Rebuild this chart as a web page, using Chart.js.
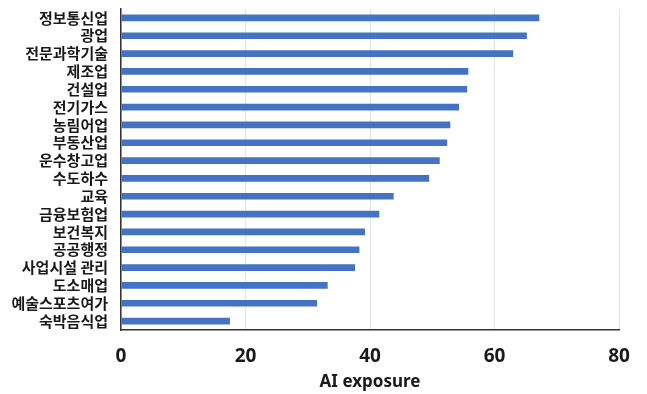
<!DOCTYPE html>
<html>
<head>
<meta charset="utf-8">
<script src="https://cdn.jsdelivr.net/npm/chart.js@4/dist/chart.umd.min.js"></script>
<style>
  html, body { margin: 0; padding: 0; background: #fff; }
  #wrap { width: 647px; height: 394px; }
</style>
</head>
<body>
<div id="wrap"><canvas id="aiChart" width="647" height="394"></canvas></div>
<script>
// 업종 (위에서 아래 순서)
const industries = [
  '정보통신업', '광업', '전문과학기술', '제조업', '건설업', '전기가스',
  '농림어업', '부동산업', '운수창고업', '수도하수', '교육', '금융보험업',
  '보건복지', '공공행정', '사업시설 관리', '도소매업', '예술스포츠여가', '숙박음식업'
];

// AI exposure 값
const exposure = [
  67.2, 65.2, 63.0, 55.8, 55.6, 54.3,
  52.9, 52.4, 51.2, 49.5, 43.8, 41.5,
  39.2, 38.3, 37.6, 33.2, 31.5, 17.5
];

const xTicks = [0, 20, 40, 60, 80];

const ctx = document.getElementById('aiChart').getContext('2d');

new Chart(ctx, {
  type: 'bar',
  data: {
    labels: industries,
    datasets: [{
      data: exposure,
      backgroundColor: '#4472C4',
      borderWidth: 0,
      categoryPercentage: 0.75,
      barPercentage: 0.5
    }]
  },
  options: {
    indexAxis: 'y',
    responsive: false,
    animation: false,
    layout: { padding: { top: 9, right: 28, bottom: 2, left: 0 } },
    plugins: {
      legend: { display: false },
      tooltip: { enabled: false }
    },
    scales: {
      x: {
        min: 0,
        max: 80,
        afterBuildTicks: axis => { axis.ticks = xTicks.map(v => ({ value: v })); },
        afterFit: axis => { axis.height = 62; },
        grid: { color: '#e3e3e3', lineWidth: 1, drawTicks: false },
        border: { color: '#333', width: 1.5 },
        ticks: {
          padding: 15,
          color: '#1a1a1a',
          font: { family: 'Noto Sans', size: 19, weight: 'bold' }
        },
        title: {
          display: true,
          text: 'AI exposure',
          color: '#1a1a1a',
          padding: { top: 0, bottom: 0 },
          font: { family: 'Noto Sans', size: 17, weight: 'bold' }
        }
      },
      y: {
        afterFit: axis => { axis.width = 121; },
        // 눈금선은 숨기고 라벨과 축 사이 간격만 확보
        grid: { display: true, drawOnChartArea: false, drawTicks: true, tickLength: 13, tickColor: 'rgba(0,0,0,0)' },
        border: { color: '#333', width: 1.5 },
        ticks: {
          autoSkip: false,
          padding: 0,
          color: '#1a1a1a',
          font: { family: 'Noto Sans CJK KR', size: 15, weight: 'bold' }
        }
      }
    }
  }
});
</script>
</body>
</html>
